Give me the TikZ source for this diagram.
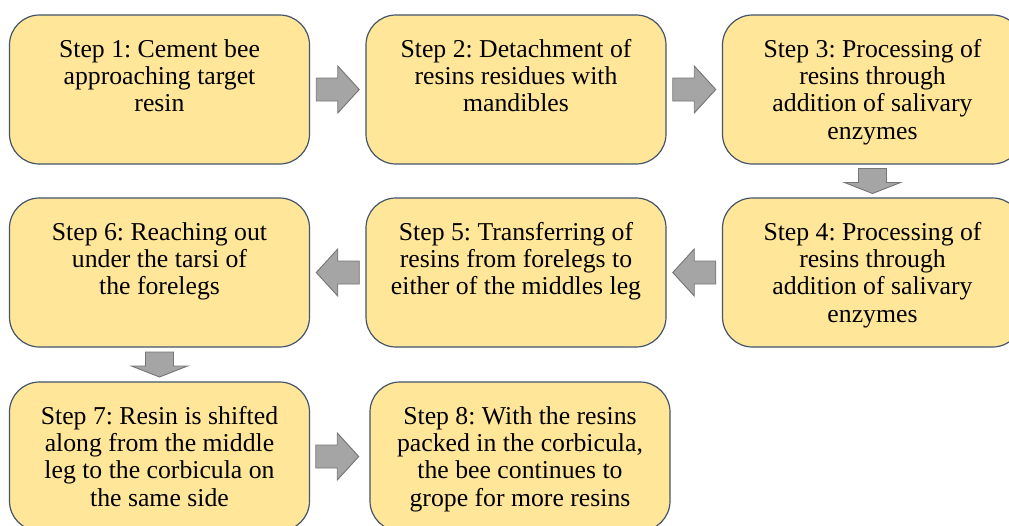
\documentclass[tikz,border=0pt]{standalone}
\usepackage{fontspec}
\newfontfamily\stepfont{Liberation Serif}
\usetikzlibrary{calc}
\definecolor{boxfill}{RGB}{255,230,153}
\definecolor{boxline}{RGB}{68,84,106}
\definecolor{arrfill}{RGB}{165,165,165}
\definecolor{arrline}{RGB}{118,118,118}
\newcommand\steptext[1]{\parbox[c][77.25pt][t]{225pt}{\stepfont\fontsize{19.3pt}{20.5pt}\selectfont\frenchspacing\centering\strut #1\par}}
\begin{document}
\begin{tikzpicture}[x=0.75pt,y=-0.75pt,
  stepbox/.style={draw=boxline, fill=boxfill, line width=0.9pt, rounded corners=22.5pt,
    minimum width=221.25pt, minimum height=111.75pt, inner sep=0pt},
  arrstyle/.style={draw=arrline, fill=arrfill, line width=0.7pt, line join=miter},
  rarrow/.pic={\draw[arrstyle] (-21.5,-11.5) -- (0,-11.5) -- (0,-23.5) -- (21.5,0) -- (0,23.5) -- (0,11.5) -- (-21.5,11.5) -- cycle;},
  darrow/.pic={\draw[arrstyle] (-14,-12.5) -- (14,-12.5) -- (14,1.5) -- (28,1.5) -- (0,12.5) -- (-28,1.5) -- (-14,1.5) -- cycle;}
]
\useasboundingbox (0,0) rectangle (1009,525);
\clip (0,0) rectangle (1009,525);
\node[stepbox] (s1) at (159.5,89.5) {\steptext{Step 1: Cement bee\\ approaching target\\ resin}};
\node[stepbox] (s2) at (516,89.5) {\steptext{Step 2: Detachment of\\ resins residues with\\ mandibles}};
\node[stepbox] (s3) at (872.5,89.5) {\steptext{Step 3: Processing of\\ resins through\\ addition of salivary\\ enzymes}};
\node[stepbox] (s4) at (872.5,272.5) {\steptext{Step 4: Processing of\\ resins through\\ addition of salivary\\ enzymes}};
\node[stepbox] (s5) at (516,272.5) {\steptext{Step 5: Transferring of\\ resins from forelegs to\\ either of the middles leg}};
\node[stepbox] (s6) at (159.5,272.5) {\steptext{Step 6: Reaching out\\ under the tarsi of\\ the forelegs}};
\node[stepbox] (s7) at (159.5,456.5) {\steptext{Step 7: Resin is shifted\\ along from the middle\\ leg to the corbicula on\\ the same side}};
\node[stepbox] (s8) at (520,456.5) {\steptext{Step 8: With the resins\\ packed in the corbicula,\\ the bee continues to\\ grope for more resins}};
\path ($(s1.east)!0.5!(s2.west)$) pic {rarrow};
\path ($(s2.east)!0.5!(s3.west)$) pic {rarrow};
\path ($(s3.south)!0.5!(s4.north)$) pic {darrow};
\path ($(s4.west)!0.5!(s5.east)$) pic[rotate=180] {rarrow};
\path ($(s5.west)!0.5!(s6.east)$) pic[rotate=180] {rarrow};
\path ($(s6.south)!0.5!(s7.north)$) pic {darrow};
\path ($(s7.east)!0.5!(s8.west)+(-2.5,0)$) pic {rarrow};
\end{tikzpicture}
\end{document}
